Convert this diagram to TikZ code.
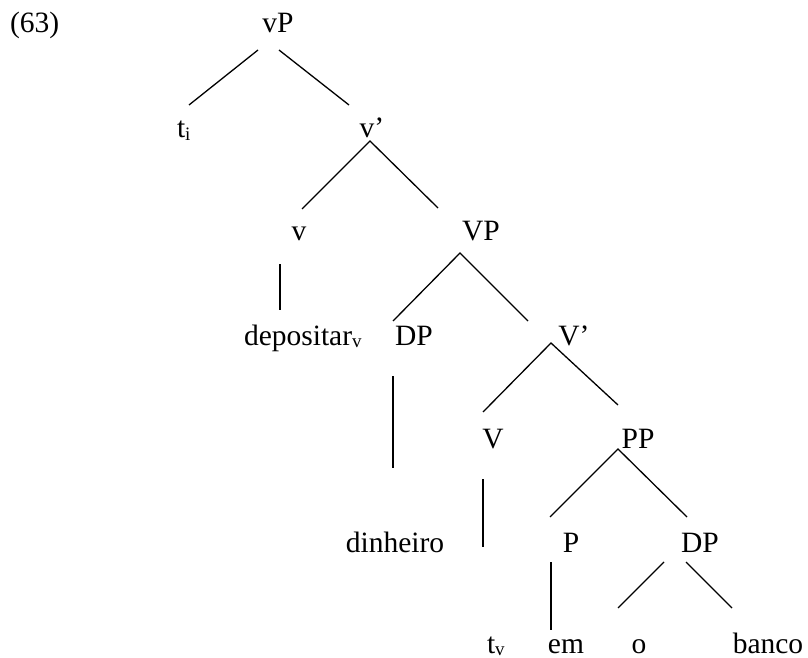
\documentclass[tikz,border=0pt]{standalone}
\usepackage{fontspec}
\setmainfont{Liberation Serif}
\newcommand\sbx[1]{\raisebox{-2.5pt}{\fontsize{19}{19}\selectfont #1}}
\tikzset{
  lbl/.style={inner sep=0pt, outer sep=0pt, anchor=base, font=\fontsize{29.5}{34}\selectfont},
  lblw/.style={lbl, anchor=base west},
  br/.style={line width=1.3pt}
}
\begin{document}
\begin{tikzpicture}[x=1pt,y=-1pt]
\useasboundingbox[fill=white] (0,0) rectangle (808,658);
% nodes
\node[lblw] (ex) at (10,33) {(63)};
\node[lbl] (vP) at (278,33) {vP};
\node[lblw] (ti) at (177,138) {t\sbx{i}};
\node[lbl] (vbar) at (372,138) {v’};
\node[lbl] (v) at (299,240) {v};
\node[lbl] (VP) at (481,240) {VP};
\node[lblw] (dep) at (244,345) {depositar\sbx{v}};
\node[lbl] (DP) at (414,345) {DP};
\node[lbl] (Vbar) at (574,345) {V’};
\node[lbl] (V) at (493,448) {V};
\node[lbl] (PP) at (638,448) {PP};
\node[lbl] (din) at (395,552) {dinheiro};
\node[lbl] (P) at (571,552) {P};
\node[lbl] (DPb) at (700,552) {DP};
\node[lblw] (tv) at (487,653) {t\sbx{v}};
\node[lbl] (em) at (566,653) {em};
\node[lbl] (o) at (639,653) {o};
\node[lbl] (banco) at (768,653) {banco};
% connectors
\draw[br] ([shift={(-20,17)}]vP.base) -- ([shift={(12,-33)}]ti.base west);
\draw[br] ([shift={(1,17)}]vP.base) -- ([shift={(-23,-33)}]vbar.base);
\draw[br] ([shift={(3,-31)}]v.base) -- ([shift={(-2,3)}]vbar.base) -- ([shift={(-43,-32)}]VP.base);
\draw[br] ([shift={(-19,24)}]v.base) -- ([shift={(36,-35)}]dep.base west);
\draw[br] ([shift={(-21,-24)}]DP.base) -- ([shift={(-21,13)}]VP.base) -- ([shift={(-46,-24)}]Vbar.base);
\draw[br] ([shift={(-21,31)}]DP.base) -- ([shift={(-2,-84)}]din.base);
\draw[br] ([shift={(-10,-36)}]V.base) -- ([shift={(-23,-2)}]Vbar.base) -- ([shift={(-20,-43)}]PP.base);
\draw[br] ([shift={(-10,31)}]V.base) -- ([shift={(-4,-106)}]tv.base west);
\draw[br] ([shift={(-21,-35)}]P.base) -- ([shift={(-20,1)}]PP.base) -- ([shift={(-13,-35)}]DPb.base);
\draw[br] ([shift={(-20,10)}]P.base) -- ([shift={(-15,-23)}]em.base);
\draw[br] ([shift={(-36,10)}]DPb.base) -- ([shift={(-21,-45)}]o.base);
\draw[br] ([shift={(-14,10)}]DPb.base) -- ([shift={(-36,-45)}]banco.base);
\end{tikzpicture}
\end{document}
